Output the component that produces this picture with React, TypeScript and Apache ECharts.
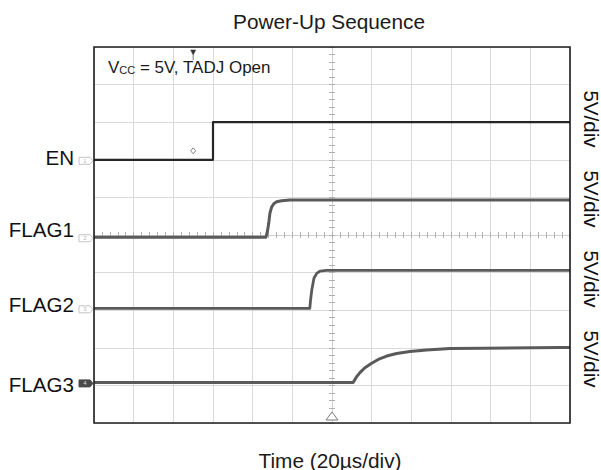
import React, { useEffect, useRef } from "react";
import * as echarts from "echarts";

// ---- data (times in µs relative to trigger, levels in volts) ----
const chartTitle = "Power-Up Sequence";
const xAxisTitle = "Time (20µs/div)";
const channelNames = ["EN", "FLAG1", "FLAG2", "FLAG3"];
const channelTags = ["1", "2", "3", "4"];
const channelScales = ["5V/div", "5V/div", "5V/div", "5V/div"];
const voltsPerDiv = 5;
const channelOffsetDiv = [2.0, -0.06, -1.95, -3.92];

const enTime = [-120, -60, -60, 120];
const enVolts = [0, 0, 5, 5];
const flag1Time = [-120, -33.3, -32.6, -31.9, -31.3, -30.4, -29.2, -27.9, -25.4, -21.2, 120];
const flag1Volts = [0, 0, 0.74, 1.85, 3.2, 4.05, 4.5, 4.73, 4.86, 4.95, 4.95];
const flag2Time = [-120, -11.2, -10.8, -10.2, -9.1, -7.7, -6.05, -2.7, 120];
const flag2Volts = [0, 0, 1.1, 2.43, 4.0, 4.65, 4.96, 5.05, 5.05];
const flag3Time = [-120, 10.7, 12.4, 14.1, 16.6, 20.0, 23.3, 27.6, 32.6, 39.3, 47.7, 59.5, 76.3, 115, 120];
const flag3Volts = [0, 0, 0.75, 1.3, 1.95, 2.55, 3.05, 3.5, 3.85, 4.1, 4.3, 4.5, 4.55, 4.65, 4.65];

const timeMin = -120;
const timeMax = 120;
const timePerDiv = 20;
const divMin = -5;
const divMax = 5;

const triggerMarkerTime = -70;

const FONT = "'Liberation Sans', Arial, Helvetica, sans-serif";

function build(times: number[], volts: number[], offset: number) {
  return times.map((t, i) => [t, offset + volts[i] / voltsPerDiv]);
}

export default function App() {
  const ref = useRef<HTMLDivElement>(null);
  useEffect(() => {
    if (!ref.current) return;
    const chart = echarts.init(ref.current, null, { renderer: "svg" });
    const traces = [
      { t: enTime, v: enVolts, color: "#262626", width: 2.2 },
      { t: flag1Time, v: flag1Volts, color: "#5a5a5a", width: 3 },
      { t: flag2Time, v: flag2Volts, color: "#5a5a5a", width: 2.8 },
      { t: flag3Time, v: flag3Volts, color: "#5a5a5a", width: 3 },
    ];
    const tickStyle = { color: "#b0b0b0", width: 1 };
    const baseX = {
      type: "value" as const,
      min: timeMin,
      max: timeMax,
      interval: timePerDiv,
      axisLabel: { show: false },
      axisLine: { show: true, onZero: true, lineStyle: { color: "#cfcfcf", width: 1 } },
      axisTick: { show: true, length: 3, lineStyle: tickStyle },
      minorTick: { show: true, splitNumber: 5, length: 3, lineStyle: tickStyle },
    };
    const baseY = {
      type: "value" as const,
      min: divMin,
      max: divMax,
      interval: 1,
      axisLabel: { show: false },
      axisLine: { show: true, onZero: true, lineStyle: { color: "#cfcfcf", width: 1 } },
      axisTick: { show: true, length: 3, lineStyle: tickStyle },
      minorTick: { show: true, splitNumber: 5, length: 3, lineStyle: tickStyle },
    };
    const option: any = {
      animation: false,
      backgroundColor: "#ffffff",
      grid: { left: 94, right: 31, top: 47, bottom: 47 },
      xAxis: [
        { ...baseX, position: "bottom", splitLine: { show: true, lineStyle: { color: "#dadada", width: 1 } } },
        { ...baseX, position: "top", splitLine: { show: false } },
      ],
      yAxis: [
        { ...baseY, position: "left", splitLine: { show: true, lineStyle: { color: "#dadada", width: 1 } } },
        { ...baseY, position: "right", splitLine: { show: false } },
      ],
      series: traces.map((tr, i) => ({
        type: "line",
        name: channelNames[i],
        xAxisIndex: 0,
        yAxisIndex: 0,
        data: build(tr.t, tr.v, channelOffsetDiv[i]),
        showSymbol: false,
        symbol: "none",
        lineStyle: { color: tr.color, width: tr.width, join: "round" },
        z: 5,
      })),
    };
    chart.setOption(option);

    const px = (t: number, d: number) => chart.convertToPixel({ xAxisIndex: 0, yAxisIndex: 0 }, [t, d]) as number[];
    const left = px(timeMin, 0)[0];
    const right = px(timeMax, 0)[0];
    const top = px(0, divMax)[1];
    const bottom = px(0, divMin)[1];
    const center = px(0, 0);
    const trig = px(triggerMarkerTime, channelOffsetDiv[0]);

    const labelY = [157, 229, 304, 384];
    const graphics: any[] = [];
    graphics.push({
      type: "rect",
      z: 20,
      shape: { x: left, y: top, width: right - left, height: bottom - top },
      style: { fill: "none", stroke: "#1e1e1e", lineWidth: 1.6 },
      silent: true,
    });
    graphics.push({
      type: "text",
      x: 329,
      y: 21,
      style: { text: chartTitle, font: `20.8px ${FONT}`, fill: "#1a1a1a", textAlign: "center", textVerticalAlign: "middle" },
    });
    graphics.push({
      type: "text",
      x: 330,
      y: 460,
      style: { text: xAxisTitle, font: `20.8px ${FONT}`, fill: "#1a1a1a", textAlign: "center", textVerticalAlign: "middle" },
    });
    graphics.push({
      type: "text",
      x: left + 14,
      y: top + 20,
      z: 10,
      style: {
        text: "{v|V}{s|CC}{v| = 5V, TADJ Open}",
        textVerticalAlign: "middle",
        fill: "#1a1a1a",
        rich: {
          v: { fontSize: 17, fontFamily: FONT, fill: "#1a1a1a", verticalAlign: "bottom" },
          s: { fontSize: 11, fontFamily: FONT, fill: "#1a1a1a", verticalAlign: "bottom" },
        },
      },
    });
    channelNames.forEach((name, i) => {
      graphics.push({
        type: "text",
        x: 74,
        y: labelY[i],
        style: { text: name, font: `20.6px ${FONT}`, fill: "#111", textAlign: "right", textVerticalAlign: "middle" },
      });
      const p = px(timeMin, channelOffsetDiv[i]);
      const ty = p[1] + 1;
      const dark = i === 3;
      graphics.push({
        type: "polygon",
        z: 10,
        shape: {
          points: [
            [left - 15, ty - 3.5],
            [left - 4, ty - 3.5],
            [left - 1, ty],
            [left - 4, ty + 3.5],
            [left - 15, ty + 3.5],
          ],
        },
        style: { fill: dark ? "#4a4a4a" : "#ffffff", stroke: dark ? "#4a4a4a" : "#c4c4c4", lineWidth: 1 },
      });
      graphics.push({
        type: "text",
        z: 11,
        x: left - 9,
        y: ty,
        style: { text: channelTags[i], font: `6px ${FONT}`, fill: dark ? "#dddddd" : "#b8b8b8", textAlign: "center", textVerticalAlign: "middle" },
      });
      graphics.push({
        type: "text",
        x: 591,
        y: 119 + 80 * i,
        rotation: -Math.PI / 2,
        style: { text: channelScales[i], font: `20.6px ${FONT}`, fill: "#111", textAlign: "center", textVerticalAlign: "middle" },
      });
    });
    // trigger markers
    graphics.push({
      type: "polygon",
      z: 21,
      shape: { points: [[trig[0] - 2.5, top + 3], [trig[0] + 2.5, top + 3], [trig[0], top + 8]] },
      style: { fill: "#333", stroke: "#333", lineWidth: 0.5 },
    });
    graphics.push({
      type: "line",
      z: 21,
      shape: { x1: trig[0], y1: top + 8, x2: trig[0], y2: top + 13 },
      style: { stroke: "#555", lineWidth: 0.8 },
    });
    graphics.push({
      type: "polygon",
      z: 10,
      shape: {
        points: [
          [trig[0], trig[1] - 12],
          [trig[0] + 2.5, trig[1] - 9],
          [trig[0], trig[1] - 6],
          [trig[0] - 2.5, trig[1] - 9],
        ],
      },
      style: { fill: "#fff", stroke: "#666", lineWidth: 0.8 },
    });
    graphics.push({
      type: "polygon",
      z: 10,
      shape: { points: [[center[0], bottom - 11], [center[0] + 6, bottom - 3], [center[0] - 6, bottom - 3]] },
      style: { fill: "#fff", stroke: "#7a7a7a", lineWidth: 1 },
    });
    chart.setOption({ graphic: graphics });

    return () => chart.dispose();
  }, []);
  return <div ref={ref} style={{ position: "fixed", left: 0, top: 0, width: 601, height: 470 }} />;
}
